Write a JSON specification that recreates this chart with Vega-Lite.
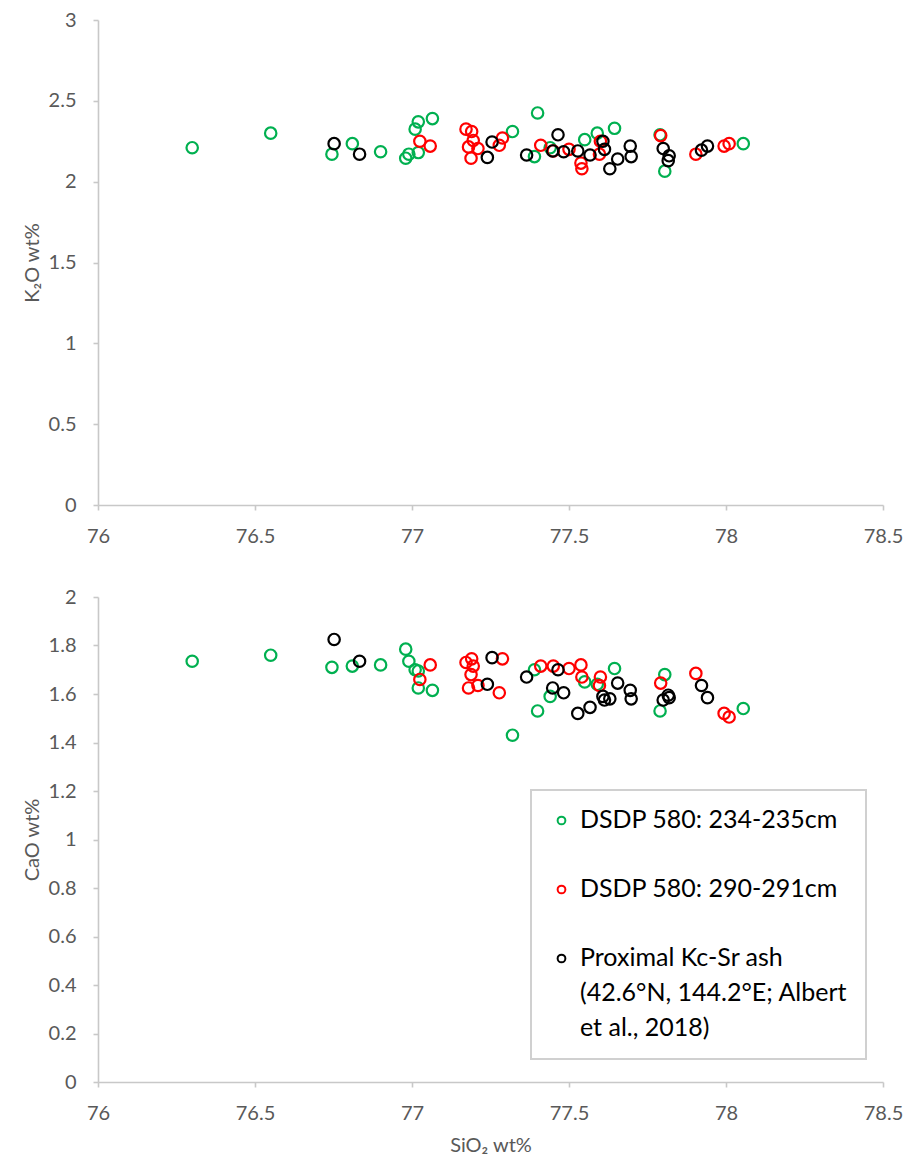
{
  "$schema": "https://vega.github.io/schema/vega-lite/v6.json",
  "padding": {"left": 22, "top": 10, "right": 20, "bottom": 8},
  "background": "white",
  "config": {
    "font": "Lato",
    "view": {"stroke": null},
    "style": {"guide-label": {"dy": -13, "lineHeight": 35}},
    "legend": {"strokeWidth": 2},
    "axis": {
      "grid": false,
      "domainColor": "#C8C8C8",
      "domainWidth": 1.6,
      "tickColor": "#C8C8C8",
      "tickWidth": 1.6,
      "tickSize": 5,
      "labelFont": "Lato",
      "labelFontSize": 20,
      "labelColor": "#595959",
      "labelFlush": false,
      "labelOverlap": false,
      "titleFont": "Lato",
      "titleFontSize": 20,
      "titleFontWeight": "normal",
      "titleColor": "#595959"
    },
    "axisY": {"labelPadding": 17, "labelOffset": 13, "titlePadding": 6},
    "axisX": {"labelPadding": 29, "titlePadding": 12}
  },
  "datasets": {
    "tephra": [
      {"sample": "DSDP 580: 234-235cm", "SiO2": 76.30, "K2O": 2.21, "CaO": 1.735},
      {"sample": "DSDP 580: 234-235cm", "SiO2": 76.55, "K2O": 2.30, "CaO": 1.76},
      {"sample": "DSDP 580: 234-235cm", "SiO2": 76.745, "K2O": 2.17, "CaO": 1.71},
      {"sample": "DSDP 580: 234-235cm", "SiO2": 76.81, "K2O": 2.235, "CaO": 1.715},
      {"sample": "DSDP 580: 234-235cm", "SiO2": 76.90, "K2O": 2.185, "CaO": 1.72},
      {"sample": "DSDP 580: 234-235cm", "SiO2": 76.98, "K2O": 2.145, "CaO": 1.785},
      {"sample": "DSDP 580: 234-235cm", "SiO2": 76.99, "K2O": 2.17, "CaO": 1.735},
      {"sample": "DSDP 580: 234-235cm", "SiO2": 77.01, "K2O": 2.325, "CaO": 1.70},
      {"sample": "DSDP 580: 234-235cm", "SiO2": 77.02, "K2O": 2.37, "CaO": 1.695},
      {"sample": "DSDP 580: 234-235cm", "SiO2": 77.02, "K2O": 2.18, "CaO": 1.625},
      {"sample": "DSDP 580: 234-235cm", "SiO2": 77.065, "K2O": 2.39, "CaO": 1.615},
      {"sample": "DSDP 580: 234-235cm", "SiO2": 77.32, "K2O": 2.31, "CaO": 1.43},
      {"sample": "DSDP 580: 234-235cm", "SiO2": 77.40, "K2O": 2.425, "CaO": 1.53},
      {"sample": "DSDP 580: 234-235cm", "SiO2": 77.39, "K2O": 2.155, "CaO": 1.70},
      {"sample": "DSDP 580: 234-235cm", "SiO2": 77.44, "K2O": 2.21, "CaO": 1.59},
      {"sample": "DSDP 580: 234-235cm", "SiO2": 77.55, "K2O": 2.26, "CaO": 1.65},
      {"sample": "DSDP 580: 234-235cm", "SiO2": 77.59, "K2O": 2.30, "CaO": 1.64},
      {"sample": "DSDP 580: 234-235cm", "SiO2": 77.645, "K2O": 2.33, "CaO": 1.705},
      {"sample": "DSDP 580: 234-235cm", "SiO2": 77.79, "K2O": 2.29, "CaO": 1.53},
      {"sample": "DSDP 580: 234-235cm", "SiO2": 77.805, "K2O": 2.065, "CaO": 1.68},
      {"sample": "DSDP 580: 234-235cm", "SiO2": 78.055, "K2O": 2.235, "CaO": 1.54},

      {"sample": "DSDP 580: 290-291cm", "SiO2": 77.025, "K2O": 2.25, "CaO": 1.66},
      {"sample": "DSDP 580: 290-291cm", "SiO2": 77.058, "K2O": 2.22, "CaO": 1.72},
      {"sample": "DSDP 580: 290-291cm", "SiO2": 77.172, "K2O": 2.325, "CaO": 1.73},
      {"sample": "DSDP 580: 290-291cm", "SiO2": 77.19, "K2O": 2.31, "CaO": 1.745},
      {"sample": "DSDP 580: 290-291cm", "SiO2": 77.195, "K2O": 2.255, "CaO": 1.715},
      {"sample": "DSDP 580: 290-291cm", "SiO2": 77.18, "K2O": 2.215, "CaO": 1.625},
      {"sample": "DSDP 580: 290-291cm", "SiO2": 77.21, "K2O": 2.205, "CaO": 1.635},
      {"sample": "DSDP 580: 290-291cm", "SiO2": 77.188, "K2O": 2.145, "CaO": 1.68},
      {"sample": "DSDP 580: 290-291cm", "SiO2": 77.288, "K2O": 2.27, "CaO": 1.745},
      {"sample": "DSDP 580: 290-291cm", "SiO2": 77.278, "K2O": 2.225, "CaO": 1.605},
      {"sample": "DSDP 580: 290-291cm", "SiO2": 77.41, "K2O": 2.225, "CaO": 1.715},
      {"sample": "DSDP 580: 290-291cm", "SiO2": 77.45, "K2O": 2.19, "CaO": 1.715},
      {"sample": "DSDP 580: 290-291cm", "SiO2": 77.50, "K2O": 2.20, "CaO": 1.705},
      {"sample": "DSDP 580: 290-291cm", "SiO2": 77.538, "K2O": 2.115, "CaO": 1.72},
      {"sample": "DSDP 580: 290-291cm", "SiO2": 77.541, "K2O": 2.08, "CaO": 1.67},
      {"sample": "DSDP 580: 290-291cm", "SiO2": 77.60, "K2O": 2.25, "CaO": 1.67},
      {"sample": "DSDP 580: 290-291cm", "SiO2": 77.597, "K2O": 2.17, "CaO": 1.635},
      {"sample": "DSDP 580: 290-291cm", "SiO2": 77.792, "K2O": 2.285, "CaO": 1.645},
      {"sample": "DSDP 580: 290-291cm", "SiO2": 77.904, "K2O": 2.17, "CaO": 1.685},
      {"sample": "DSDP 580: 290-291cm", "SiO2": 77.994, "K2O": 2.22, "CaO": 1.52},
      {"sample": "DSDP 580: 290-291cm", "SiO2": 78.01, "K2O": 2.235, "CaO": 1.505},

      {"sample": "Proximal Kc-Sr ash\n(42.6°N, 144.2°E; Albert\net al., 2018)", "SiO2": 76.752, "K2O": 2.235, "CaO": 1.825},
      {"sample": "Proximal Kc-Sr ash\n(42.6°N, 144.2°E; Albert\net al., 2018)", "SiO2": 76.833, "K2O": 2.17, "CaO": 1.735},
      {"sample": "Proximal Kc-Sr ash\n(42.6°N, 144.2°E; Albert\net al., 2018)", "SiO2": 77.255, "K2O": 2.245, "CaO": 1.75},
      {"sample": "Proximal Kc-Sr ash\n(42.6°N, 144.2°E; Albert\net al., 2018)", "SiO2": 77.24, "K2O": 2.15, "CaO": 1.64},
      {"sample": "Proximal Kc-Sr ash\n(42.6°N, 144.2°E; Albert\net al., 2018)", "SiO2": 77.365, "K2O": 2.165, "CaO": 1.67},
      {"sample": "Proximal Kc-Sr ash\n(42.6°N, 144.2°E; Albert\net al., 2018)", "SiO2": 77.465, "K2O": 2.29, "CaO": 1.70},
      {"sample": "Proximal Kc-Sr ash\n(42.6°N, 144.2°E; Albert\net al., 2018)", "SiO2": 77.448, "K2O": 2.19, "CaO": 1.625},
      {"sample": "Proximal Kc-Sr ash\n(42.6°N, 144.2°E; Albert\net al., 2018)", "SiO2": 77.483, "K2O": 2.185, "CaO": 1.605},
      {"sample": "Proximal Kc-Sr ash\n(42.6°N, 144.2°E; Albert\net al., 2018)", "SiO2": 77.528, "K2O": 2.19, "CaO": 1.52},
      {"sample": "Proximal Kc-Sr ash\n(42.6°N, 144.2°E; Albert\net al., 2018)", "SiO2": 77.567, "K2O": 2.165, "CaO": 1.545},
      {"sample": "Proximal Kc-Sr ash\n(42.6°N, 144.2°E; Albert\net al., 2018)", "SiO2": 77.608, "K2O": 2.25, "CaO": 1.59},
      {"sample": "Proximal Kc-Sr ash\n(42.6°N, 144.2°E; Albert\net al., 2018)", "SiO2": 77.613, "K2O": 2.20, "CaO": 1.575},
      {"sample": "Proximal Kc-Sr ash\n(42.6°N, 144.2°E; Albert\net al., 2018)", "SiO2": 77.63, "K2O": 2.08, "CaO": 1.58},
      {"sample": "Proximal Kc-Sr ash\n(42.6°N, 144.2°E; Albert\net al., 2018)", "SiO2": 77.655, "K2O": 2.14, "CaO": 1.645},
      {"sample": "Proximal Kc-Sr ash\n(42.6°N, 144.2°E; Albert\net al., 2018)", "SiO2": 77.695, "K2O": 2.22, "CaO": 1.615},
      {"sample": "Proximal Kc-Sr ash\n(42.6°N, 144.2°E; Albert\net al., 2018)", "SiO2": 77.698, "K2O": 2.155, "CaO": 1.58},
      {"sample": "Proximal Kc-Sr ash\n(42.6°N, 144.2°E; Albert\net al., 2018)", "SiO2": 77.80, "K2O": 2.205, "CaO": 1.575},
      {"sample": "Proximal Kc-Sr ash\n(42.6°N, 144.2°E; Albert\net al., 2018)", "SiO2": 77.819, "K2O": 2.16, "CaO": 1.585},
      {"sample": "Proximal Kc-Sr ash\n(42.6°N, 144.2°E; Albert\net al., 2018)", "SiO2": 77.816, "K2O": 2.13, "CaO": 1.595},
      {"sample": "Proximal Kc-Sr ash\n(42.6°N, 144.2°E; Albert\net al., 2018)", "SiO2": 77.922, "K2O": 2.195, "CaO": 1.635},
      {"sample": "Proximal Kc-Sr ash\n(42.6°N, 144.2°E; Albert\net al., 2018)", "SiO2": 77.941, "K2O": 2.22, "CaO": 1.585}
    ]
  },
  "data": {"name": "tephra"},
  "spacing": 92,
  "bounds": "flush",
  "resolve": {"scale": {"color": "independent"}, "legend": {"color": "independent"}},
  "vconcat": [
    {
      "width": 785,
      "height": 485,
      "mark": {"type": "point", "shape": "circle", "filled": false, "size": 130, "strokeWidth": 2.2, "opacity": 1},
      "encoding": {
        "x": {
          "field": "SiO2", "type": "quantitative",
          "scale": {"domain": [76, 78.5], "nice": false, "zero": false},
          "axis": {"values": [76, 76.5, 77, 77.5, 78, 78.5], "format": "~g", "title": null}
        },
        "y": {
          "field": "K2O", "type": "quantitative",
          "scale": {"domain": [0, 3], "nice": false},
          "axis": {"values": [0, 0.5, 1, 1.5, 2, 2.5, 3], "format": "~g", "title": "K₂O wt%"}
        },
        "color": {
          "field": "sample", "type": "nominal",
          "scale": {
            "domain": ["DSDP 580: 234-235cm", "DSDP 580: 290-291cm", "Proximal Kc-Sr ash\n(42.6°N, 144.2°E; Albert\net al., 2018)"],
            "range": ["#00B050", "#FF0000", "#000000"]
          },
          "legend": null
        }
      }
    },
    {
      "width": 785,
      "height": 485,
      "mark": {"type": "point", "shape": "circle", "filled": false, "size": 130, "strokeWidth": 2.2, "opacity": 1},
      "encoding": {
        "x": {
          "field": "SiO2", "type": "quantitative",
          "scale": {"domain": [76, 78.5], "nice": false, "zero": false},
          "axis": {"values": [76, 76.5, 77, 77.5, 78, 78.5], "format": "~g", "title": "SiO₂ wt%"}
        },
        "y": {
          "field": "CaO", "type": "quantitative",
          "scale": {"domain": [0, 2], "nice": false},
          "axis": {"values": [0, 0.2, 0.4, 0.6, 0.8, 1, 1.2, 1.4, 1.6, 1.8, 2], "format": "~g", "title": "CaO wt%"}
        },
        "color": {
          "field": "sample", "type": "nominal",
          "scale": {
            "domain": ["DSDP 580: 234-235cm", "DSDP 580: 290-291cm", "Proximal Kc-Sr ash\n(42.6°N, 144.2°E; Albert\net al., 2018)"],
            "range": ["#00B050", "#FF0000", "#000000"]
          },
          "legend": {
            "orient": "none",
            "legendX": 433,
            "legendY": 193,
            "title": null,
            "symbolType": "circle",
            "symbolSize": 60,
            "symbolStrokeWidth": 2,
            "labelFont": "Lato",
            "labelFontSize": 25,
            "labelColor": "#000000",
            "labelLimit": 400,
            "labelOffset": 6,
            "labelBaseline": "top",
            "labelExpr": "split(datum.label, '\\n')",
            "rowPadding": 43,
            "padding": 18,
            "fillColor": "white",
            "strokeColor": "#D0D0D0"
          }
        }
      }
    }
  ]
}
